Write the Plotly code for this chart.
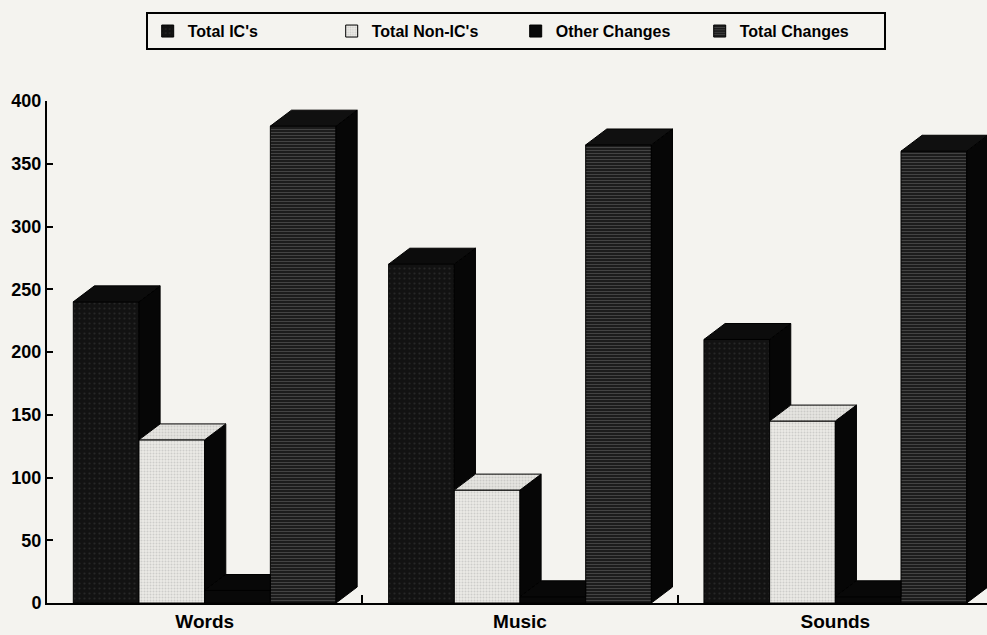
import plotly.graph_objects as go

# ---- data -------------------------------------------------------------
categories = ["Words", "Music", "Sounds"]
total_ics = [240, 270, 210]
total_non_ics = [130, 90, 145]
other_changes = [10, 5, 5]
total_changes = [380, 365, 360]
y_tick_values = [0, 50, 100, 150, 200, 250, 300, 350, 400]
series_names = ["Total IC's", "Total Non-IC's", "Other Changes", "Total Changes"]

# ---- styling ----------------------------------------------------------
PAPER = "#f4f3ef"
FONT = "Liberation Sans"
BAR_W = 0.2083          # width of one bar, in category units
DEPTH_X = 0.067         # 3-D extrusion, horizontal (category units)
DEPTH_Y = 12.7          # 3-D extrusion, vertical (value units)

front_styles = [
    dict(color="#121212", pattern=dict(shape=".", fgcolor="#3c3c3c", bgcolor="#121212",
                                       size=5, solidity=0.15)),
    dict(color="#ebeae6", pattern=dict(shape=".", fgcolor="#b0b0ae", bgcolor="#ebeae6",
                                       size=3, solidity=0.35)),
    dict(color="#080808"),
    dict(color="#1c1c1c", pattern=dict(shape="-", fgcolor="#858585", bgcolor="#1c1c1c",
                                       size=3, solidity=0.25)),
]
top_colors = ["#0c0c0c", "#e6e5e1", "#080808", "#101010"]
side_color = "#060606"

values = [total_ics, total_non_ics, other_changes, total_changes]
centers = [k + 0.5 for k in range(len(categories))]

fig = go.Figure()

# front faces: ordinary bars, one trace per series
for i, (name, vals) in enumerate(zip(series_names, values)):
    fig.add_trace(go.Bar(
        x=centers, y=vals, name=name,
        width=BAR_W, offset=-2 * BAR_W + i * BAR_W,
        marker=dict(line=dict(color="#000000", width=1), **front_styles[i]),
        hovertemplate="%{y}<extra>" + name + "</extra>",
    ))


def add_poly(xs, ys, fill, pattern=None):
    kw = {}
    if pattern is not None:
        kw["fillpattern"] = pattern
    fig.add_trace(go.Scatter(
        x=xs, y=ys, mode="lines", fill="toself", fillcolor=fill,
        line=dict(color="#000000", width=1), showlegend=False,
        hoverinfo="skip", **kw))


# side and top faces of the extruded bars, with hidden parts cut away
slope = DEPTH_Y / DEPTH_X
for i, vals in enumerate(values):
    side_x, side_y, top_x, top_y = [], [], [], []
    for k, c in enumerate(centers):
        left = c - 2 * BAR_W + i * BAR_W
        right = left + BAR_W
        h = vals[k]
        h_next = values[i + 1][k] if i + 1 < len(values) else 0
        # side face: only the part above the neighbour's front/top is seen
        if h > h_next:
            side_x += [right, right + DEPTH_X, right + DEPTH_X, right, right, None]
            side_y += [h_next, h_next + DEPTH_Y, h + DEPTH_Y, h, h_next, None]
        # top face: clipped where a taller neighbour stands in front
        if h_next <= h:
            tx = [left, right, right + DEPTH_X, left + DEPTH_X, left]
            ty = [h, h, h + DEPTH_Y, h + DEPTH_Y, h]
        else:
            y_start = min(h_next, h + DEPTH_Y)
            x_cut = right + max(0.0, h + DEPTH_Y - h_next) / slope
            tx = [left, right, right, x_cut, left + DEPTH_X, left]
            ty = [h, h, y_start, h + DEPTH_Y, h + DEPTH_Y, h]
        top_x += tx + [None]
        top_y += ty + [None]
    if side_x:
        add_poly(side_x, side_y, side_color)
    pattern = None
    if i == 1:
        pattern = dict(shape=".", fgcolor="#b0b0ae", bgcolor=top_colors[i], size=3, solidity=0.35)
    add_poly(top_x, top_y, top_colors[i], pattern)

fig.update_layout(
    width=987, height=635,
    margin=dict(l=47, r=0, t=101, b=32),
    paper_bgcolor=PAPER, plot_bgcolor=PAPER,
    barmode="overlay",
    font=dict(family=FONT, color="#000000"),
    showlegend=True,
    legend=dict(
        orientation="h", x=0.105, y=1.177, xanchor="left", yanchor="top",
        bgcolor=PAPER, bordercolor="#000000", borderwidth=2,
        font=dict(family=FONT, size=16, weight="bold", color="#000000"),
        entrywidth=139, traceorder="normal",
    ),
    xaxis=dict(
        range=[0, 2.981], showgrid=False, zeroline=False,
        tickmode="array", tickvals=centers, ticktext=categories, ticks="",
        tickfont=dict(family=FONT, size=19, weight="bold"),
        showline=True, linecolor="#000000", linewidth=2,
        minor=dict(tickmode="array", tickvals=[1, 2], ticks="inside",
                   ticklen=8, tickwidth=2, tickcolor="#000000"),
    ),
    yaxis=dict(
        range=[0, 400], showgrid=False, zeroline=False,
        tickmode="array", tickvals=y_tick_values,
        ticks="inside", ticklen=6, tickwidth=2, tickcolor="#000000",
        tickfont=dict(family=FONT, size=18, weight="bold"),
        showline=True, linecolor="#000000", linewidth=2,
    ),
)

fig.write_html("out.html")
